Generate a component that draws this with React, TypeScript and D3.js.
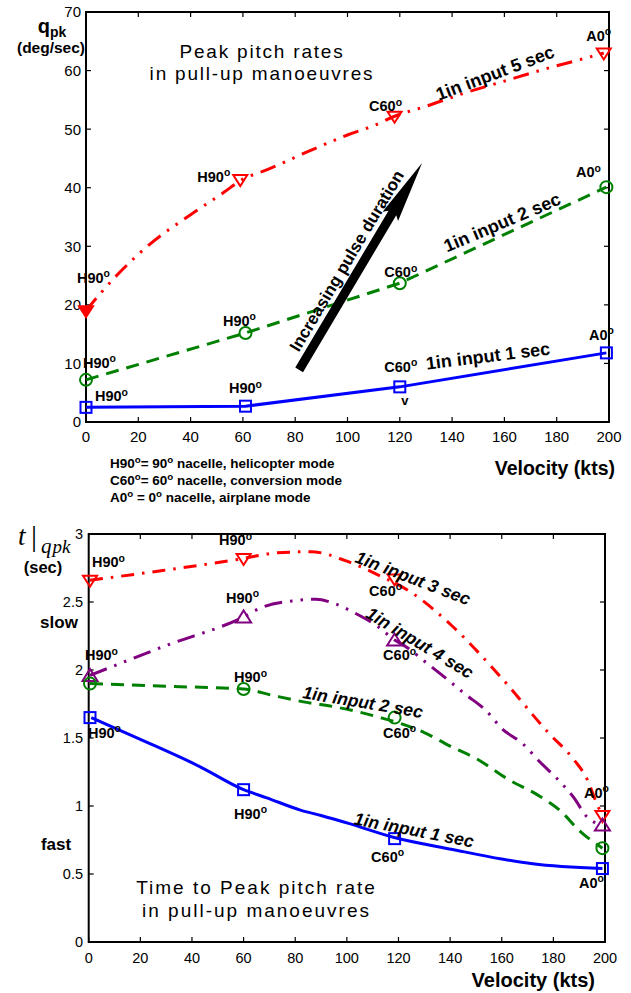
import React from "react";
import * as d3 from "d3";

// ---------- DATA ----------
// Top chart: peak pitch rate (deg/sec) vs velocity (kts)
const topVel = [0, 59, 118, 198];
const topVelG = [0, 61, 120, 199];
const q5Markers = [19, 41.4, 52.2, 63];
const q5Line: [number, number][] = [
  [0, 19], [6, 22.2], [13, 25.6], [24, 30.2], [40, 35.4], [53, 39.3], [59, 41.2],
  [70, 43.2], [85, 46.2], [100, 49], [110, 50.6], [118, 52.2], [130, 53.9],
  [145, 56.2], [160, 58.2], [175, 60.2], [190, 62], [198, 63],
];
const q2Markers = [7.2, 15.2, 23.7, 40.1];
const q1Markers = [2.5, 2.7, 6.0, 11.8];

// Bottom chart: time to peak pitch rate (sec) vs velocity (kts)
const botVel = [0.5, 60, 118.5, 199];
const t3Markers = [2.66, 2.82, 2.67, 0.93];
const t4Markers = [1.96, 2.39, 2.22, 0.86];
const t2Markers = [1.9, 1.86, 1.65, 0.69];
const t1Markers = [1.65, 1.12, 0.76, 0.54];
const t3Line: [number, number][] = [
  [0.5, 2.66], [28, 2.73], [60, 2.82], [72, 2.86], [86, 2.87], [100, 2.8], [112, 2.7],
  [125, 2.57], [141, 2.32], [160, 1.94], [178, 1.54], [188, 1.34], [193, 1.2],
  [197, 1.01], [199, 0.93],
];
const t4Line: [number, number][] = [
  [0.5, 1.96], [30, 2.18], [60, 2.39], [67, 2.46], [80, 2.51], [88, 2.52], [95, 2.49],
  [103, 2.42], [112, 2.32], [118.5, 2.22], [123, 2.17], [131, 2.05], [139, 1.93],
  [146, 1.82], [154, 1.7], [160, 1.57], [168, 1.46], [175, 1.32], [182, 1.19],
  [188, 1.06], [193, 0.92], [199, 0.86],
];
const t2Line: [number, number][] = [
  [0.5, 1.9], [30, 1.88], [60, 1.86], [72, 1.81], [85, 1.76], [95, 1.73], [105, 1.69],
  [113, 1.65], [118.5, 1.62], [130, 1.54], [140, 1.44], [150, 1.35], [163, 1.19],
  [174, 1.08], [183, 0.96], [190, 0.82], [199, 0.69],
];
const t1Line: [number, number][] = [
  [1, 1.65], [20, 1.49], [43, 1.29], [60, 1.12], [69, 1.06], [82, 0.97],
  [90, 0.93], [101, 0.87], [118, 0.77], [141, 0.68], [160, 0.61], [172, 0.575], [199, 0.54],
];

const xTicks = [0, 20, 40, 60, 80, 100, 120, 140, 160, 180, 200];
const yTicksTop = [0, 10, 20, 30, 40, 50, 60, 70];
const yTicksBot = [0, 0.5, 1, 1.5, 2, 2.5, 3];
const yTickLabelsBot = ["0", "0.5", "1", "1.5", "2", "2.5", "3"];

const notes = [
  "H90º= 90º nacelle, helicopter mode",
  "C60º= 60º nacelle, conversion mode",
  "A0º = 0º nacelle, airplane mode",
];

// ---------- STYLE ----------
const FONT = "'Liberation Sans', Arial, Helvetica, sans-serif";
const RED = "#ff0000";
const GREEN = "#008000";
const BLUE = "#0000ff";
const PURPLE = "#800080";

function deg(str: string, size: number) {
  const parts = str.split("º");
  const out: React.ReactNode[] = [];
  parts.forEach((p, i) => {
    if (i > 0) {
      out.push(
        <tspan key={"o" + i} dy={-size * 0.38} fontSize={size * 0.72}>o</tspan>
      );
      out.push(<tspan key={"t" + i} dy={size * 0.38}>{p}</tspan>);
    } else if (p) {
      out.push(<tspan key={"t" + i}>{p}</tspan>);
    }
  });
  return out;
}

function Marker({ type, x, y, color, filled }: any) {
  const sw = 2;
  if (type === "square")
    return <rect x={x - 5.5} y={y - 5.5} width={11} height={11} fill="none" stroke={color} strokeWidth={sw} />;
  if (type === "circle")
    return <circle cx={x} cy={y} r={6} fill="none" stroke={color} strokeWidth={sw} />;
  if (type === "tdown")
    return (
      <path d={`M${x - 7},${y - 4.5}L${x + 7},${y - 4.5}L${x},${y + 6.5}Z`} fill={filled ? color : "none"} stroke={color} strokeWidth={sw} />
    );
  return (
    <path d={`M${x - 7.5},${y + 5.5}L${x + 7.5},${y + 5.5}L${x},${y - 6.5}Z`} fill="none" stroke={color} strokeWidth={sw} />
  );
}

function Frame({ x, y, ticksY, yLabels, yLabelX, xLabelY, fs }: any) {
  const [x0, x1] = x.range();
  const [y0, y1] = y.range();
  const tl = 5;
  return (
    <g>
      <rect x={x0} y={y1} width={x1 - x0} height={y0 - y1} fill="none" stroke="#000" strokeWidth={2} />
      {xTicks.map((t) => (
        <g key={"x" + t}>
          <line x1={x(t)} x2={x(t)} y1={y0} y2={y0 - tl} stroke="#000" strokeWidth={1.2} />
          <line x1={x(t)} x2={x(t)} y1={y1} y2={y1 + tl} stroke="#000" strokeWidth={1.2} />
          <text x={x(t)} y={xLabelY} textAnchor="middle" fontSize={fs} fontFamily={FONT}>{t}</text>
        </g>
      ))}
      {ticksY.map((t: number, i: number) => (
        <g key={"y" + t}>
          <line x1={x0} x2={x0 + tl} y1={y(t)} y2={y(t)} stroke="#000" strokeWidth={1.2} />
          <line x1={x1} x2={x1 - tl} y1={y(t)} y2={y(t)} stroke="#000" strokeWidth={1.2} />
          <text x={yLabelX} y={y(t)} dy="0.36em" textAnchor="end" fontSize={fs} fontFamily={FONT}>{yLabels[i]}</text>
        </g>
      ))}
    </g>
  );
}

function Label({ x, y, text, anchor = "middle", size = 14 }: any) {
  return (
    <text x={x} y={y} textAnchor={anchor} fontSize={size} fontWeight="bold" fontFamily={FONT}>
      {deg(text, size)}
    </text>
  );
}

export default function App() {
  // scales
  const xT = d3.scaleLinear().domain([0, 200]).range([86, 609]);
  const yT = d3.scaleLinear().domain([0, 70]).range([422, 12]);
  const xB = d3.scaleLinear().domain([0, 200]).range([88.7, 605]);
  const yB = d3.scaleLinear().domain([0, 3]).range([942, 534]);

  const lineT = (curve: any) =>
    d3.line<[number, number]>().x((d) => xT(d[0])).y((d) => yT(d[1])).curve(curve);
  const lineB = d3
    .line<[number, number]>()
    .x((d) => xB(d[0]))
    .y((d) => yB(d[1]))
    .curve(d3.curveMonotoneX);

  const zip = (xs: number[], ys: number[]) => xs.map((v, i) => [v, ys[i]] as [number, number]);

  const topSeries = [
    { line: q5Line, curve: d3.curveMonotoneX, xs: topVel, ys: q5Markers, color: RED, dash: "16 8 2.5 8 2.5 8", marker: "tdown" },
    { line: zip(topVelG, q2Markers), curve: d3.curveLinear, xs: topVelG, ys: q2Markers, color: GREEN, dash: "13 8", marker: "circle" },
    { line: zip(topVelG, q1Markers), curve: d3.curveLinear, xs: topVelG, ys: q1Markers, color: BLUE, dash: null, marker: "square" },
  ];
  const botSeries = [
    { line: t3Line, xs: botVel, ys: t3Markers, color: RED, dash: "13 8 2.5 8", marker: "tdown" },
    { line: t4Line, xs: botVel, ys: t4Markers, color: PURPLE, dash: "18 8 2.5 8 2.5 8", marker: "tup" },
    { line: t2Line, xs: botVel, ys: t2Markers, color: GREEN, dash: "13 8", marker: "circle" },
    { line: t1Line, xs: botVel, ys: t1Markers, color: BLUE, dash: null, marker: "square" },
  ];

  // point labels: [seriesIndex, pointIndex, text, anchor, dx, dy]
  const topLabels: [number, number, string, string, number, number][] = [
    [0, 0, "H90º", "start", -9, -28],
    [0, 1, "H90º", "end", -10, 2],
    [0, 2, "C60º", "middle", -9, -5],
    [0, 3, "A0º", "middle", -5, -12],
    [1, 0, "H90º", "start", -3, -12],
    [1, 1, "H90º", "middle", -6, -7],
    [1, 2, "C60º", "middle", 1, -6],
    [1, 3, "A0º", "middle", -18, -10],
    [2, 0, "H90º", "start", 9, -6],
    [2, 1, "H90º", "middle", 0, -13],
    [2, 2, "C60º", "middle", 1, -15],
    [2, 2, "v", "middle", 5, 18],
    [2, 3, "A0º", "middle", -5, -13],
  ];
  const botLabels: [number, number, string, string, number, number][] = [
    [0, 0, "H90º", "start", 2, -13],
    [0, 1, "H90º", "middle", -8, -13],
    [0, 2, "C60º", "middle", -9, 17],
    [0, 3, "A0º", "middle", -6, -18],
    [1, 0, "H90º", "start", -5, -15],
    [1, 1, "H90º", "middle", -1, -14],
    [1, 2, "C60º", "middle", 5, 20],
    [2, 1, "H90º", "middle", 7, -7],
    [2, 2, "C60º", "middle", 5, 20],
    [3, 0, "H90º", "start", -2, 20],
    [3, 1, "H90º", "middle", 7, 29],
    [3, 2, "C60º", "middle", -7, 23],
    [3, 3, "A0º", "middle", -11, 19],
  ];

  // rotated series labels (data coords + screen angle)
  const topSeriesText = [
    { t: "1in input 5 sec", x: 156.4, y: 59.6, a: -20.6 },
    { t: "1in input 2 sec", x: 159.1, y: 34.1, a: -23 },
    { t: "1in input 1 sec", x: 153.7, y: 11.3, a: -7 },
  ];
  const botSeriesText = [
    { t: "1in input 3 sec", x: 125.6, y: 2.676, a: 21 },
    { t: "1in input 4 sec", x: 128.3, y: 2.2, a: 31 },
    { t: "1in input 2 sec", x: 106.2, y: 1.765, a: 9.5 },
    { t: "1in input 1 sec", x: 126, y: 0.824, a: 11 },
  ];

  // arrow
  const tail = [xT(81.5), yT(8.9)];
  const tip = [xT(128.5), yT(44.2)];
  const ddx = tip[0] - tail[0];
  const ddy = tip[1] - tail[1];
  const len = Math.hypot(ddx, ddy);
  const ux = ddx / len;
  const uy = ddy / len;
  const nx = -uy;
  const ny = ux;
  const hw = 4.5;
  const headL = 58;
  const headW = 9;
  const P = (a: number, b: number) => `${tail[0] + ux * a + nx * b},${tail[1] + uy * a + ny * b}`;
  const arrowPath = `M${P(0, -hw)}L${P(len - headL, -hw)}L${P(len - headL - 4, -headW)}L${P(len, 0)}L${P(len - headL - 4, headW)}L${P(len - headL, hw)}L${P(0, hw)}Z`;
  const angle = (Math.atan2(ddy, ddx) * 180) / Math.PI;
  const tAlong = 118;
  const tPerp = 9;
  const sgn = nx > 0 ? 1 : -1;
  const txp = tail[0] + ux * tAlong - nx * tPerp * sgn;
  const typ = tail[1] + uy * tAlong - ny * tPerp * sgn;

  return (
    <svg width={631} height={993} style={{ position: "absolute", left: 0, top: 0, background: "#fff" }} fontFamily={FONT}>
      <rect x={0} y={0} width={631} height={993} fill="#fff" />

      {/* ---------------- TOP CHART ---------------- */}
      <Frame x={xT} y={yT} ticksY={yTicksTop} yLabels={yTicksTop.map(String)} yLabelX={81} xLabelY={442} fs={15} />

      {topSeries.map((s, i) => (
        <path key={"tl" + i} d={lineT(s.curve)(s.line as any) || ""} fill="none" stroke={s.color} strokeWidth={3} strokeDasharray={s.dash || undefined} />
      ))}
      {topSeries.map((s, i) =>
        s.xs.map((v, j) => (
          <Marker key={"tm" + i + "-" + j} type={s.marker} x={xT(v)} y={yT(s.ys[j])} color={s.color} filled={i === 0 && j === 0} />
        ))
      )}
      {topLabels.map(([si, pi, t, anc, dx, dy], k) => {
        const s = topSeries[si];
        return <Label key={"tlab" + k} x={xT(s.xs[pi]) + dx} y={yT(s.ys[pi]) + dy} text={t} anchor={anc} size={t === "v" ? 13 : 14.5} />;
      })}
      {topSeriesText.map((s, i) => (
        <text key={"tst" + i} transform={`translate(${xT(s.x)},${yT(s.y)}) rotate(${s.a})`} dy="0.35em" textAnchor="middle" fontSize={18} fontWeight="bold">
          {s.t}
        </text>
      ))}

      <path d={arrowPath} fill="#000" />
      <text transform={`translate(${txp},${typ}) rotate(${angle})`} textAnchor="middle" fontSize={17} fontWeight="bold">
        Increasing pulse duration
      </text>

      <text x={xT(67.3)} y={yT(62.1)} textAnchor="middle" fontSize={19} letterSpacing={1.8}>Peak pitch rates</text>
      <text x={xT(67.3)} y={yT(58.4)} textAnchor="middle" fontSize={19} letterSpacing={1.8}>in pull-up manoeuvres</text>

      <text x={52} y={33} textAnchor="middle" fontWeight="bold" fontSize={20}>
        q<tspan fontSize={14} dy={4}>pk</tspan>
      </text>
      <text x={51} y={53} textAnchor="middle" fontWeight="bold" fontSize={15.5}>(deg/sec)</text>

      <text x={615} y={475} textAnchor="end" fontWeight="bold" fontSize={19.5}>Velocity (kts)</text>

      {notes.map((n, i) => (
        <text key={"n" + i} x={110} y={468 + i * 17} fontWeight="bold" fontSize={13.5}>
          {deg(n, 13.5)}
        </text>
      ))}

      {/* ---------------- BOTTOM CHART ---------------- */}
      <Frame x={xB} y={yB} ticksY={yTicksBot} yLabels={yTickLabelsBot} yLabelX={83} xLabelY={963} fs={14.5} />

      {botSeries.map((s, i) => (
        <path key={"bl" + i} d={lineB(s.line) || ""} fill="none" stroke={s.color} strokeWidth={3} strokeDasharray={s.dash || undefined} />
      ))}
      {botSeries.map((s, i) =>
        s.xs.map((v, j) => (
          <Marker key={"bm" + i + "-" + j} type={s.marker} x={xB(v)} y={yB(s.ys[j])} color={s.color} filled={false} />
        ))
      )}
      {botLabels.map(([si, pi, t, anc, dx, dy], k) => {
        const s = botSeries[si];
        return <Label key={"blab" + k} x={xB(s.xs[pi]) + dx} y={yB(s.ys[pi]) + dy} text={t} anchor={anc} size={14.5} />;
      })}
      {botSeriesText.map((s, i) => (
        <text key={"bst" + i} transform={`translate(${xB(s.x)},${yB(s.y)}) rotate(${s.a})`} dy="0.35em" textAnchor="middle" fontSize={17.5} fontWeight="bold" fontStyle="italic">
          {s.t}
        </text>
      ))}

      <text x={xB(65)} y={yB(0.353)} textAnchor="middle" fontSize={19} letterSpacing={2}>Time to Peak pitch rate</text>
      <text x={xB(65)} y={yB(0.184)} textAnchor="middle" fontSize={19} letterSpacing={2}>in pull-up manoeuvres</text>

      <text x={18} y={545} fontFamily="'Liberation Serif', 'Times New Roman', serif" fontStyle="italic" fontSize={27}>t</text>
      <text x={31} y={546} fontFamily="'Liberation Serif', 'Times New Roman', serif" fontSize={30}>|</text>
      <text x={41} y={553} fontFamily="'Liberation Serif', 'Times New Roman', serif" fontStyle="italic" fontSize={21}>
        q<tspan fontSize={19} dx={1}>pk</tspan>
      </text>
      <text x={43} y={573} textAnchor="middle" fontWeight="bold" fontSize={16.5}>(sec)</text>
      <text x={59} y={628} textAnchor="middle" fontWeight="bold" fontSize={17}>slow</text>
      <text x={56} y={850} textAnchor="middle" fontWeight="bold" fontSize={17}>fast</text>

      <text x={595} y={987} textAnchor="end" fontWeight="bold" fontSize={20}>Velocity (kts)</text>
    </svg>
  );
}
